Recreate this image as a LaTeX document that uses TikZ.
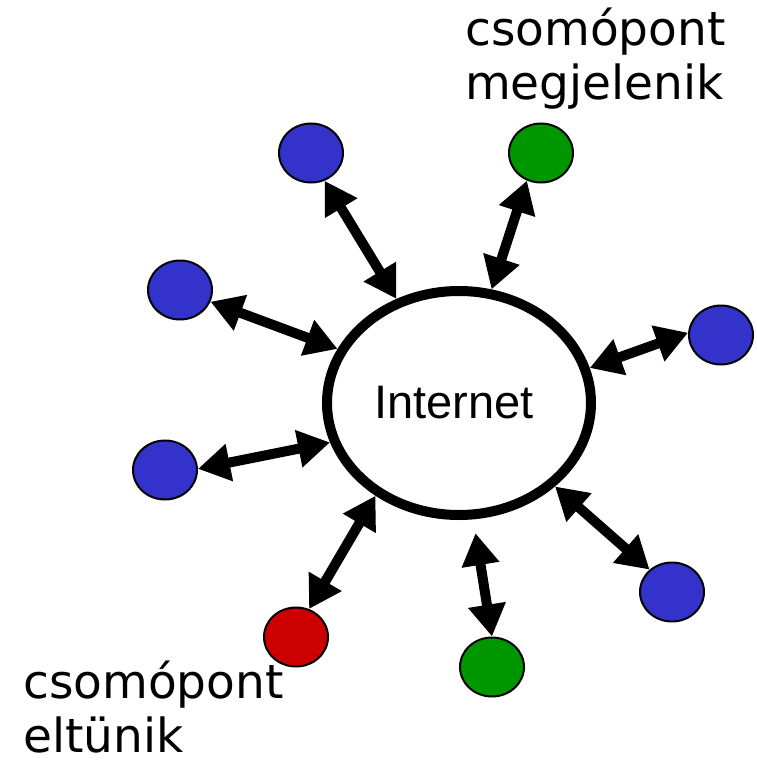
\documentclass[tikz,border=0pt]{standalone}
\usepackage{fontspec}
\setmainfont{DejaVu Sans}
\newfontfamily\netfont{Liberation Sans}
\usetikzlibrary{arrows.meta,shapes.geometric}
\definecolor{hostblue}{RGB}{51,51,204}
\definecolor{hostgreen}{RGB}{0,150,0}
\definecolor{hostred}{RGB}{204,0,0}
\begin{document}
\begin{tikzpicture}[x=1pt,y=-1pt,
	host/.style={ellipse,draw=black,line width=2pt,minimum width=64pt,minimum height=59pt,inner sep=0pt},
	link/.style={line width=10pt,{Triangle[length=32pt,width=36pt]}-{Triangle[length=32pt,width=36pt]}},
	caption/.style={align=left,inner sep=0pt,font=\fontsize{47}{54}\selectfont}]
	\useasboundingbox (0,0) rectangle (756,765);

	\node (net) [ellipse,draw,line width=10pt,minimum width=264pt,minimum height=224pt,
		font=\netfont\fontsize{47}{50}\selectfont] at (459,403) {Internet\hspace*{10pt}};

	\node (tl) [host,fill=hostblue] at (311,153) {};
	\node (tg) [host,fill=hostgreen] at (541,153) {};
	\node (lu) [host,fill=hostblue] at (180,290) {};
	\node (ll) [host,fill=hostblue] at (165,470) {};
	\node (ru) [host,fill=hostblue] at (721,335) {};
	\node (rl) [host,fill=hostblue] at (672,592) {};
	\node (bg) [host,fill=hostgreen] at (492,667) {};
	\node (br) [host,fill=hostred] at (296,637) {};

	% base anchor sits on the last line
	\node (new) [caption,anchor=base west] at (465,100) {csomópont\\megjelenik};
	\node (gone) [caption,anchor=base west] at (23,752) {csomópont\\eltünik};

	\draw[link] (tl.-64) -- (net.121);
	\draw[link] (tg.-117) -- (net.74);
	\draw[link] (lu.-21) -- (net.156);
	\draw[link] (ll.2) -- (net.-163);
	\draw[link] (ru.176) -- (net.15);
	\draw[link] (rl.135) -- (net.-41);
	\draw[link,shorten >=14pt] (bg.90) -- (net.-83);
	\draw[link] (br.65) -- (net.-132);
\end{tikzpicture}
\end{document}
